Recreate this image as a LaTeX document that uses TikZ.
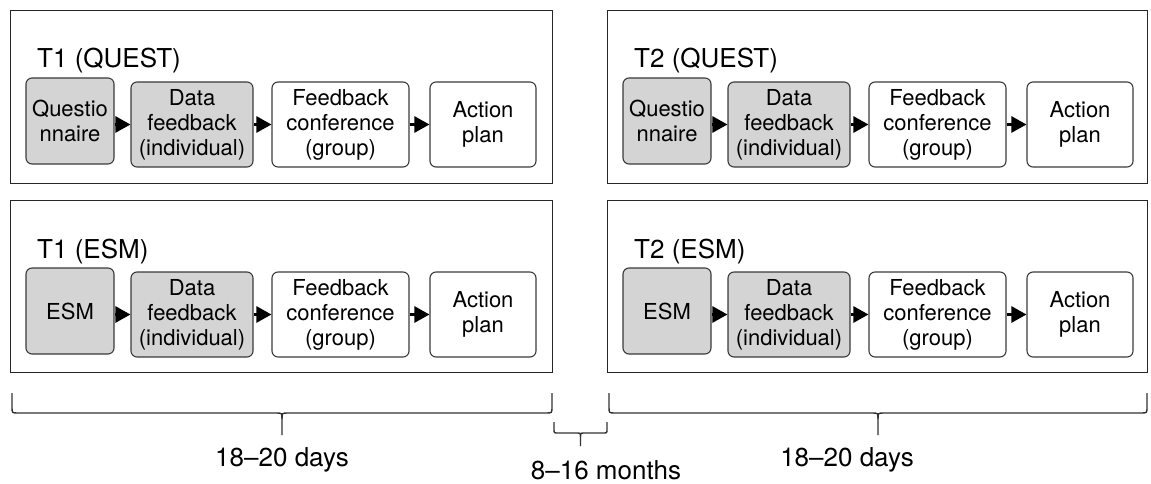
\documentclass[tikz,border=0pt]{standalone}
\usepackage{fontspec}
\setmainfont{TeX Gyre Heros}
\usetikzlibrary{arrows.meta}

\definecolor{boxgray}{HTML}{D4D4D4}
\definecolor{edgegray}{HTML}{3A3A3A}

% curly brace opening upwards: #1 left x, #2 right x, #3 top of ends,
% #4 height of the horizontal bar, #5 tip of the stem, #6 corner radius
\newcommand\drawcurlybrace[6]{%
  \pgfmathsetmacro\bmid{(#1+#2)/2}%
  \draw[span] (#1,#3) -- (#1,#4-#6) .. controls (#1,#4) .. (#1+#6,#4)
    -- (\bmid-#6,#4) .. controls (\bmid,#4) .. (\bmid,#4+#6) -- (\bmid,#5);
  \draw[span] (#2,#3) -- (#2,#4-#6) .. controls (#2,#4) .. (#2-#6,#4)
    -- (\bmid+#6,#4) .. controls (\bmid,#4) .. (\bmid,#4+#6);
}

\begin{document}
\begin{tikzpicture}[x=1pt,y=-1pt,
  panel/.style={draw=black!85, line width=1.3pt, anchor=north west, inner sep=0pt},
  stage/.style={draw=edgegray, line width=1.1pt, rounded corners=6pt, align=center,
    inner sep=0pt, minimum height=85pt, font=\fontsize{22}{25}\selectfont},
  done/.style={stage, fill=boxgray},
  flow/.style={line width=2.6pt, -{Triangle[length=15pt 0, width=16pt 0]}},
  heading/.style={anchor=base west, inner sep=0pt, font=\fontsize{26}{30}\selectfont},
  span/.style={draw=black!80, line width=1.4pt},
  spanlabel/.style={anchor=base, inner sep=0pt, font=\fontsize{26}{30}\selectfont}]

\useasboundingbox (0,0) rectangle (1151,484);

% ---- panels ----
\node[panel, minimum width=542pt, minimum height=173pt] (pq1) at (10,10) {};
\node[panel, minimum width=542pt, minimum height=172pt] (pe1) at (10,200) {};
\node[panel, minimum width=540pt, minimum height=173pt] (pq2) at (607,10) {};
\node[panel, minimum width=540pt, minimum height=172pt] (pe2) at (607,200) {};

% ---- T1 questionnaire ----
\node[heading] (hq1) at (37,68) {T1 (QUEST)};
\node[done, minimum width=88pt, minimum height=86pt] (q1) at (70,121) {Questio\\nnaire};
\node[done, minimum width=122pt] (dq1) at (192,124.5) {Data\\feedback\\(individual)};
\node[stage, minimum width=137pt] (fq1) at (340.5,124.5) {Feedback\\conference\\(group)};
\node[stage, minimum width=106pt] (aq1) at (483,124.5) {Action\\plan};
\draw[flow] (q1.east |- dq1) -- (dq1.west);
\draw[flow] (dq1) -- (fq1);
\draw[flow] (fq1) -- (aq1);

% ---- T1 ESM ----
\node[heading] (he1) at (37,258) {T1 (ESM)};
\node[done, minimum width=88pt, minimum height=86pt] (e1) at (70,311) {ESM};
\node[done, minimum width=122pt] (de1) at (192,314.5) {Data\\feedback\\(individual)};
\node[stage, minimum width=137pt] (fe1) at (340.5,314.5) {Feedback\\conference\\(group)};
\node[stage, minimum width=106pt] (ae1) at (483,314.5) {Action\\plan};
\draw[flow] (e1.east |- de1) -- (de1.west);
\draw[flow] (de1) -- (fe1);
\draw[flow] (fe1) -- (ae1);

% ---- T2 questionnaire ----
\node[heading] (hq2) at (634,68) {T2 (QUEST)};
\node[done, minimum width=88pt, minimum height=86pt] (q2) at (667,121) {Questio\\nnaire};
\node[done, minimum width=122pt] (dq2) at (789,124.5) {Data\\feedback\\(individual)};
\node[stage, minimum width=137pt] (fq2) at (937.5,124.5) {Feedback\\conference\\(group)};
\node[stage, minimum width=106pt] (aq2) at (1080,124.5) {Action\\plan};
\draw[flow] (q2.east |- dq2) -- (dq2.west);
\draw[flow] (dq2) -- (fq2);
\draw[flow] (fq2) -- (aq2);

% ---- T2 ESM ----
\node[heading] (he2) at (634,258) {T2 (ESM)};
\node[done, minimum width=88pt, minimum height=86pt] (e2) at (667,311) {ESM};
\node[done, minimum width=122pt] (de2) at (789,314.5) {Data\\feedback\\(individual)};
\node[stage, minimum width=137pt] (fe2) at (937.5,314.5) {Feedback\\conference\\(group)};
\node[stage, minimum width=106pt] (ae2) at (1080,314.5) {Action\\plan};
\draw[flow] (e2.east |- de2) -- (de2.west);
\draw[flow] (de2) -- (fe2);
\draw[flow] (fe2) -- (ae2);

% ---- time spans ----
\drawcurlybrace{12}{552}{393}{413}{435}{6}
\drawcurlybrace{609}{1147}{393}{413}{435}{6}
\drawcurlybrace{554}{607}{422}{433}{446}{4}

\node[spanlabel] (s1) at (282,466) {18–20 days};
\node[spanlabel] (s0) at (606,479) {8–16 months};
\node[spanlabel] (s2) at (847,466) {18–20 days};

\end{tikzpicture}
\end{document}
